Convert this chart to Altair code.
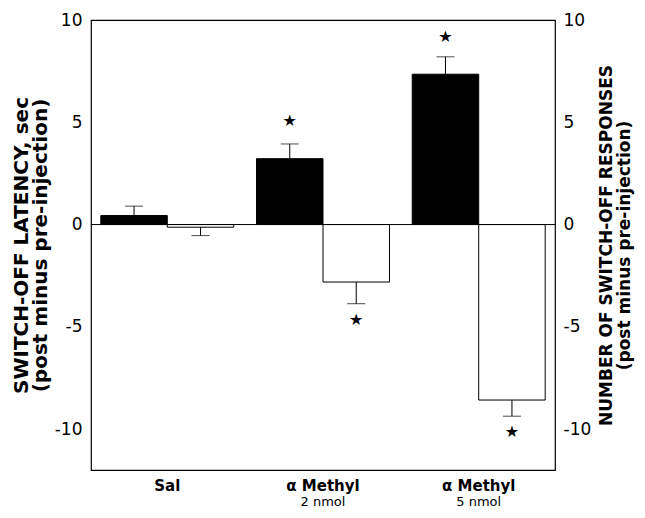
import altair as alt
import pandas as pd

cats = ["Sal", "aM2", "aM5"]
line1 = ["Sal", "α Methyl", "α Methyl"]
line2 = ["", "2 nmol", "5 nmol"]
latency = [0.44, 3.22, 7.35]
latency_sem = [0.46, 0.72, 0.85]
responses = [-0.13, -2.81, -8.58]
responses_sem = [0.41, 1.06, 0.79]
latency_star = [None, 5.07, 9.17]
responses_star = [None, -4.68, -10.13]

rows = []
for i, c in enumerate(cats):
    rows.append(dict(cat=c, series="latency", value=latency[i],
                     err=latency[i] + latency_sem[i], star=latency_star[i]))
    rows.append(dict(cat=c, series="responses", value=responses[i],
                     err=responses[i] - responses_sem[i], star=responses_star[i]))
df = pd.DataFrame(rows)
sub_df = pd.DataFrame({"cat": cats, "sub": line2})

FONT = "DejaVu Sans"
W, H = 464, 450
ydom = [-12, 10]
yvals = [-10, -5, 0, 5, 10]

label_expr = ("datum.value == 'Sal' ? '" + line1[0] + "' : datum.value == 'aM2' ? '"
              + line1[1] + "' : '" + line1[2] + "'")

x = alt.X("cat:N", sort=cats,
          scale=alt.Scale(paddingInner=0.146, paddingOuter=0.063),
          axis=alt.Axis(title=None, labelExpr=label_expr, labelFont=FONT,
                        labelFontSize=15, labelFontWeight="bold", labelColor="black",
                        domain=False, ticks=False, labelPadding=8, labelAngle=0))
xo = alt.XOffset("series:N", sort=["latency", "responses"],
                 scale=alt.Scale(paddingInner=0, paddingOuter=0))

yscale = alt.Scale(domain=ydom, nice=False, zero=False)
left_axis = alt.Axis(values=yvals, grid=False, domain=False, ticks=False,
                     labelExpr="'' + datum.value",
                     labelFont=FONT, labelFontSize=17, labelColor="black", labelPadding=9,
                     title=["SWITCH-OFF LATENCY, sec", "(post minus pre-injection)"],
                     titleFont=FONT, titleFontSize=20, titleFontWeight="bold",
                     titleColor="black", titlePadding=4, titleLineHeight=19)

base = alt.Chart(df)

bars = base.mark_bar(stroke="black", strokeWidth=1).encode(
    x=x, xOffset=xo,
    y=alt.Y("value:Q", scale=yscale, axis=left_axis),
    fill=alt.Fill("series:N", scale=alt.Scale(domain=["latency", "responses"],
                                               range=["black", "white"]), legend=None),
)
errs = base.mark_rule(color="black", strokeWidth=1).encode(
    x=x, xOffset=xo, y=alt.Y("value:Q", scale=yscale), y2="err:Q")
caps = base.mark_tick(color="black", thickness=1, size=18, orient="horizontal").encode(
    x=x, xOffset=xo, y=alt.Y("err:Q", scale=yscale))
stars = base.transform_filter("isValid(datum.star)").mark_text(
    text="★", fontSize=16, baseline="middle", color="black", font="DejaVu Sans").encode(
    x=x, xOffset=xo, y=alt.Y("star:Q", scale=yscale))
subs = alt.Chart(sub_df).mark_text(font=FONT, fontSize=13, color="black",
                                   baseline="middle").encode(
    x=x, y=alt.value(H + 32), text="sub:N")

main = alt.layer(bars, errs, caps, stars, subs)

zero = alt.Chart(pd.DataFrame({"z": [0]})).mark_rule(color="black", strokeWidth=1).encode(
    y=alt.Y("z:Q", scale=yscale,
            axis=alt.Axis(orient="right", values=yvals, grid=False, domain=False, ticks=False,
                          labelExpr="'' + datum.value",
                          labelFont=FONT, labelFontSize=17, labelColor="black", labelPadding=8,
                          title=["NUMBER OF SWITCH-OFF RESPONSES", "(post minus pre-injection)"],
                          titleFont=FONT, titleFontSize=17, titleFontWeight="bold",
                          titleColor="black", titlePadding=7, titleAngle=270,
                          titleLineHeight=18)))

chart = alt.layer(main, zero).resolve_scale(y="independent").properties(
    width=W, height=H,
    background="white",
    autosize=alt.AutoSizeParams(type="none"),
    padding={"left": 83, "top": 12, "right": 82, "bottom": 40},
).configure_view(stroke="black", strokeWidth=1.2)

chart.save("out.html", embed_options={"renderer": "svg", "actions": False})
